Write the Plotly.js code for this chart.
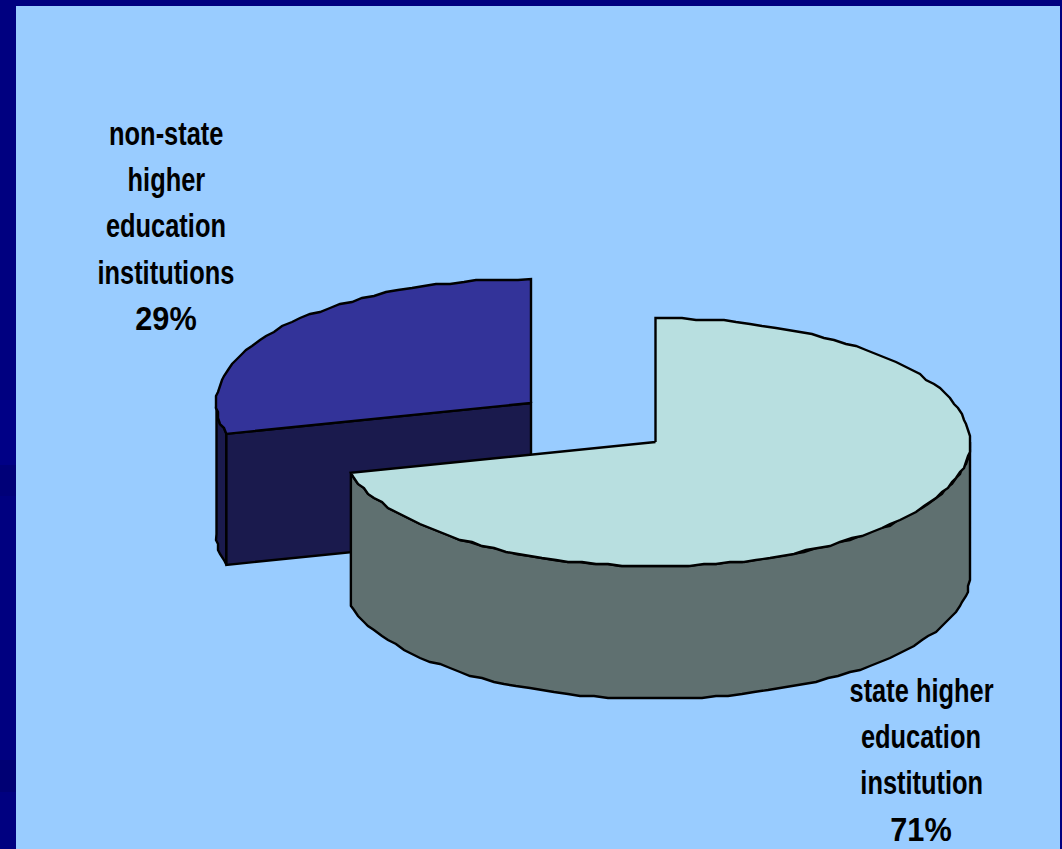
<!DOCTYPE html>
<html>
<head>
<meta charset="utf-8">
<script src="https://cdn.plot.ly/plotly-3.0.1.min.js"></script>
<style>html,body{margin:0;padding:0;background:#000080;overflow:hidden}</style>
</head>
<body>
<div id="chart" style="width:1062px;height:849px"></div>
<script>
// Share of higher education institutions by type, in percent
const categories = ['state higher education institution', 'non-state higher education institutions'];
const shares = [71, 29];
const labelLines = [
  ['state higher', 'education', 'institution', '71%'],
  ['non-state', 'higher', 'education', 'institutions', '29%']
];

// Colours of each slice: top face, then side face
const topColours = ['#b8dfe0', '#333399'];
const sideColours = ['#5f7070', '#1a1a4d'];

// Projected disc: ellipse radii, extrusion depth per slice, slice hubs after explosion
const rx = 314.5, ry = 124;
const depths = [133, 131];
const hubs = [[655.5, 442], [531, 403]];
const labelAnchors = [[921, 690], [166, 133]];
const labelStep = 46.4;
const wordSqueeze = 0.77, percentSqueeze = 0.93;

// Outline vertices snap to a coarse grid, which gives the edges their low-resolution wobble
const grid = 2;
const snap = v => Math.round(v / grid) * grid;

// Angles run clockwise from 12 o'clock, the first slice starts at the top
const sweep = shares.map(s => s / shares.reduce((a, b) => a + b, 0) * 360);
const spans = [[0, sweep[0]], [sweep[0], 360]];

function rim(hub, a0, a1, dy) {
  const n = Math.max(1, Math.ceil(Math.abs(a1 - a0) / 2.5));
  const pts = [];
  for (let i = 0; i <= n; i++) {
    const t = (a0 + (a1 - a0) * i / n) * Math.PI / 180;
    const x = hub[0] + rx * Math.sin(t), y = hub[1] - ry * Math.cos(t) + dy;
    const end = i === 0 || i === n;
    pts.push(end ? [x, y] : [snap(x), snap(y)]);
  }
  return pts;
}

function poly(pts, fill, name) {
  const closed = pts.concat([pts[0]]);
  return {
    type: 'scatter', mode: 'lines', name,
    x: closed.map(p => p[0]), y: closed.map(p => p[1]),
    fill: 'toself', fillcolor: fill,
    line: {color: '#000000', width: 2.4, simplify: false},
    hoverinfo: 'name', showlegend: false
  };
}

const traces = [];

// Non-state slice sits behind: outer wall, cut wall, then the top face
{
  const hub = hubs[1], depth = depths[1], [a0, a1] = spans[1];
  const wallEnd = Math.min(a1, 270);
  traces.push(poly(rim(hub, a0, wallEnd, 0).concat(rim(hub, wallEnd, a0, depth)), sideColours[1], categories[1]));
  const p = rim(hub, a0, a0, 0)[0];
  traces.push(poly([p, hub, [hub[0], hub[1] + depth], [p[0], p[1] + depth]], sideColours[1], categories[1]));
  traces.push(poly([hub].concat(rim(hub, a0, a1, 0)), topColours[1], categories[1]));
}

// State slice in front: the visible wall runs from the right extreme round to the cut
{
  const hub = hubs[0], depth = depths[0], [a0, a1] = spans[0];
  const wallStart = Math.max(a0, 90);
  traces.push(poly(rim(hub, wallStart, a1, 0).concat(rim(hub, a1, wallStart, depth)), sideColours[0], categories[0]));
  traces.push(poly([hub].concat(rim(hub, a0, a1, 0)), topColours[0], categories[0]));
}

const annotations = [];
labelLines.forEach((lines, i) => lines.forEach((text, j) => annotations.push({
  x: labelAnchors[i][0], y: labelAnchors[i][1] + j * labelStep,
  text, showarrow: false, xanchor: 'center', yanchor: 'middle',
  font: {family: '"Liberation Sans", sans-serif', size: 33, weight: 700, color: '#000000'}
})));

// Slide frame: pale panel over a navy background with slightly shifted patches
const band = (y0, y1, color) => ({type: 'rect', layer: 'below', x0: 0, x1: 16, y0, y1, fillcolor: color, line: {width: 0}});
const shapes = [
  {type: 'rect', layer: 'below', x0: 0, x1: 1062, y0: 0, y1: 849, fillcolor: '#000080', line: {width: 0}},
  band(400, 465, '#000086'), band(465, 496, '#000078'), band(760, 792, '#000074'),
  {type: 'rect', layer: 'below', x0: 16, x1: 1060, y0: 6, y1: 849, fillcolor: '#99ccff', line: {width: 0}}
];

const axis = {visible: false, fixedrange: true};
Plotly.newPlot('chart', traces, {
  width: 1062, height: 849,
  margin: {l: 0, r: 0, t: 0, b: 0},
  paper_bgcolor: '#000080', plot_bgcolor: 'rgba(0,0,0,0)',
  xaxis: Object.assign({range: [0, 1062]}, axis),
  yaxis: Object.assign({range: [849, 0]}, axis),
  shapes, annotations, showlegend: false
}, {displayModeBar: false, staticPlot: true}).then(gd => {
  // Condense the label glyphs horizontally, keeping each line centred on its anchor
  gd.querySelectorAll('.annotation-text').forEach(t => {
    const squeeze = t.textContent.includes('%') ? percentSqueeze : wordSqueeze;
    t.setAttribute('textLength', t.getComputedTextLength() * squeeze);
    t.setAttribute('lengthAdjust', 'spacingAndGlyphs');
  });
});
</script>
</body>
</html>
